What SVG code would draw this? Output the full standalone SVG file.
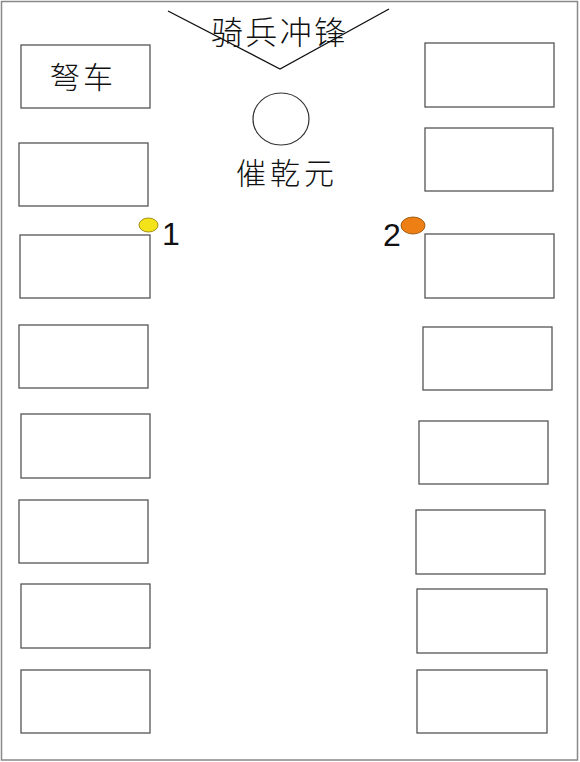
<svg xmlns="http://www.w3.org/2000/svg" width="580" height="762" viewBox="0 0 580 762">
<style>
.box{fill:#fff;stroke:#555;stroke-width:1.3}
.cjk{font-family:"Noto Sans CJK SC","Noto Sans",sans-serif;fill:#111;font-weight:300}
.num{font-family:"Liberation Sans",Arial,sans-serif;fill:#111;font-size:32px}
</style>
<rect x="0" y="0" width="580" height="762" fill="#fff"/>
<rect x="1.5" y="1.5" width="576" height="758.5" fill="none" stroke="#888" stroke-width="1.5"/>
<g id="connectors">
<polyline points="168,11 280,69 389,9" fill="none" stroke="#111" stroke-width="1.4"/>
</g>
<g id="title"><text class="cjk" x="211" y="44" font-size="32" textLength="135" lengthAdjust="spacing">骑兵冲锋</text></g>
<g id="L1"><rect class="box" x="21" y="45" width="129" height="63"/><text class="cjk" x="50" y="88" font-size="30" textLength="63" lengthAdjust="spacing">弩车</text></g>
<g id="L2"><rect class="box" x="19" y="143" width="129" height="63"/></g>
<g id="L3"><rect class="box" x="20" y="235" width="130" height="63"/></g>
<g id="L4"><rect class="box" x="19" y="325" width="129" height="63"/></g>
<g id="L5"><rect class="box" x="21" y="414" width="129" height="64"/></g>
<g id="L6"><rect class="box" x="19" y="500" width="129" height="63"/></g>
<g id="L7"><rect class="box" x="21" y="584" width="129" height="64"/></g>
<g id="L8"><rect class="box" x="21" y="670" width="129" height="63"/></g>
<g id="R1"><rect class="box" x="425" y="43" width="129" height="64"/></g>
<g id="R2"><rect class="box" x="425" y="128" width="128" height="63"/></g>
<g id="R3"><rect class="box" x="425" y="234" width="129" height="64"/></g>
<g id="R4"><rect class="box" x="423" y="327" width="129" height="63"/></g>
<g id="R5"><rect class="box" x="419" y="421" width="129" height="63"/></g>
<g id="R6"><rect class="box" x="416" y="510" width="129" height="64"/></g>
<g id="R7"><rect class="box" x="417" y="589" width="130" height="64"/></g>
<g id="R8"><rect class="box" x="417" y="670" width="130" height="63"/></g>
<g id="center"><ellipse cx="281" cy="119" rx="28" ry="26" fill="#fff" stroke="#333" stroke-width="1.2"/><text class="cjk" x="236" y="184" font-size="30" textLength="98" lengthAdjust="spacing">催乾元</text></g>
<g id="marker1"><ellipse cx="148.5" cy="225" rx="9.5" ry="7" fill="#f5e31a" stroke="#8a7a00" stroke-width="0.8"/><text class="num" x="162" y="245">1</text></g>
<g id="marker2"><ellipse cx="413" cy="225.5" rx="12" ry="8.5" fill="#ee7f14" stroke="#8a4a00" stroke-width="0.8"/><text class="num" x="383" y="246">2</text></g>
</svg>
